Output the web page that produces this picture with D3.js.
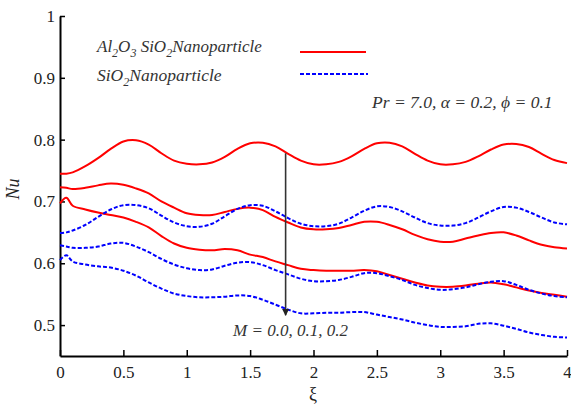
<!DOCTYPE html>
<html>
<head>
<meta charset="utf-8">
<script src="https://cdn.jsdelivr.net/npm/d3@7"></script>
<style>
  body { margin: 0; background: #fff; }
</style>
</head>
<body>
<div id="chart"></div>
<script>
// xi positions shared by all curves
var xi = [0, 0.05, 0.1, 0.2, 0.3, 0.4, 0.5, 0.6, 0.7, 0.8, 0.9, 1.0, 1.1, 1.2, 1.3, 1.4, 1.5, 1.6, 1.7, 1.8, 1.9, 2.0,
          2.1, 2.2, 2.3, 2.4, 2.5, 2.6, 2.7, 2.8, 2.9, 3.0, 3.1, 3.2, 3.3, 3.4, 3.5, 3.6, 3.7, 3.8, 3.9, 4.0];

// Al2O3 SiO2 nanoparticle, M = 0.0, 0.1, 0.2
var alM0 = [0.745, 0.745, 0.747, 0.757, 0.770, 0.785, 0.797, 0.799, 0.792, 0.778, 0.766, 0.761, 0.760, 0.763, 0.772, 0.785, 0.794, 0.795, 0.789, 0.777, 0.766, 0.760,
            0.760, 0.764, 0.773, 0.785, 0.794, 0.795, 0.789, 0.777, 0.766, 0.760, 0.760, 0.764, 0.773, 0.784, 0.792, 0.793, 0.788, 0.777, 0.767, 0.762];
var alM1 = [0.723, 0.722, 0.720, 0.722, 0.726, 0.729, 0.727, 0.721, 0.713, 0.700, 0.690, 0.681, 0.678, 0.678, 0.683, 0.688, 0.690, 0.686, 0.675, 0.666, 0.658, 0.655,
            0.655, 0.657, 0.662, 0.667, 0.667, 0.662, 0.655, 0.646, 0.639, 0.635, 0.635, 0.640, 0.645, 0.649, 0.650, 0.645, 0.637, 0.630, 0.626, 0.624];
var alM2 = [0.697, 0.706, 0.693, 0.687, 0.682, 0.678, 0.674, 0.667, 0.658, 0.644, 0.632, 0.625, 0.622, 0.621, 0.623, 0.621, 0.614, 0.610, 0.603, 0.597, 0.591, 0.589,
            0.588, 0.588, 0.588, 0.589, 0.587, 0.581, 0.575, 0.569, 0.564, 0.562, 0.562, 0.564, 0.567, 0.569, 0.566, 0.561, 0.556, 0.552, 0.549, 0.546];

// SiO2 nanoparticle, M = 0.0, 0.1, 0.2
var siM0 = [0.649, 0.650, 0.653, 0.662, 0.675, 0.687, 0.694, 0.694, 0.689, 0.677, 0.666, 0.660, 0.659, 0.664, 0.676, 0.688, 0.694, 0.693, 0.684, 0.673, 0.664, 0.660,
            0.660, 0.664, 0.674, 0.685, 0.692, 0.691, 0.684, 0.674, 0.665, 0.661, 0.661, 0.665, 0.674, 0.684, 0.691, 0.690, 0.683, 0.674, 0.666, 0.663];
var siM1 = [0.629, 0.627, 0.625, 0.625, 0.627, 0.632, 0.633, 0.627, 0.618, 0.607, 0.598, 0.592, 0.589, 0.590, 0.596, 0.601, 0.602, 0.597, 0.589, 0.582, 0.575, 0.571,
            0.571, 0.573, 0.578, 0.584, 0.584, 0.579, 0.573, 0.565, 0.560, 0.557, 0.558, 0.561, 0.566, 0.570, 0.571, 0.565, 0.557, 0.551, 0.547, 0.545];
var siM2 = [0.605, 0.613, 0.603, 0.598, 0.595, 0.593, 0.588, 0.580, 0.569, 0.559, 0.551, 0.547, 0.545, 0.545, 0.546, 0.548, 0.547, 0.541, 0.533, 0.525, 0.519, 0.519,
            0.520, 0.520, 0.521, 0.521, 0.517, 0.513, 0.509, 0.504, 0.500, 0.497, 0.497, 0.498, 0.502, 0.503, 0.499, 0.494, 0.488, 0.484, 0.481, 0.480];

var xTicks = [0, 0.5, 1, 1.5, 2, 2.5, 3, 3.5, 4];
var yTicks = [0.5, 0.6, 0.7, 0.8, 0.9, 1];

var width = 571, height = 407;

var svg = d3.select("#chart")
  .append("svg")
    .attr("width", width)
    .attr("height", height);

var x = d3.scaleLinear().domain([0, 4]).range([60, 567]);
var y = d3.scaleLinear().domain([0.45, 1]).range([356, 16]);

// axes (ticks pointing inward)
var xAxis = svg.append("g")
  .attr("transform", "translate(0," + y(0.45) + ")")
  .call(d3.axisBottom(x).tickValues(xTicks).tickSizeInner(-6).tickSizeOuter(0)
        .tickFormat(function(d) { return String(d); }));
var yAxis = svg.append("g")
  .attr("transform", "translate(" + x(0) + ",0)")
  .call(d3.axisLeft(y).tickValues(yTicks).tickSizeInner(-5).tickSizeOuter(0)
        .tickFormat(function(d) { return String(d); }));

[xAxis, yAxis].forEach(function(ax) {
  ax.attr("font-family", null).attr("font-size", null);
  ax.select(".domain").attr("stroke", "#000").attr("stroke-width", 2);
  ax.selectAll(".tick line").attr("stroke", "#000").attr("stroke-width", 1.5);
  ax.selectAll(".tick text").attr("fill", "#222").attr("font-size", 17);
});
xAxis.selectAll(".tick text").attr("y", 10);
yAxis.selectAll(".tick text").attr("x", -5);

// curves
var line = d3.line()
  .x(function(d) { return x(d[0]); })
  .y(function(d) { return y(d[1]); })
  .curve(d3.curveCatmullRom.alpha(0.5));

var series = [
  {vals: alM0, color: "#ff0000", dash: null},
  {vals: alM1, color: "#ff0000", dash: null},
  {vals: alM2, color: "#ff0000", dash: null},
  {vals: siM0, color: "#0000ff", dash: "4,2"},
  {vals: siM1, color: "#0000ff", dash: "4,2"},
  {vals: siM2, color: "#0000ff", dash: "4,2"}
];

series.forEach(function(s) {
  svg.append("path")
    .datum(xi.map(function(v, i) { return [v, s.vals[i]]; }))
    .attr("fill", "none")
    .attr("stroke", s.color)
    .attr("stroke-width", 2)
    .attr("stroke-dasharray", s.dash)
    .attr("d", line);
});

// arrow for increasing M
svg.append("defs").append("marker")
    .attr("id", "arrow")
    .attr("viewBox", "0 0 10 10")
    .attr("refX", 9).attr("refY", 5)
    .attr("markerWidth", 12).attr("markerHeight", 7)
    .attr("markerUnits", "userSpaceOnUse")
    .attr("orient", "auto")
  .append("path")
    .attr("d", "M0,0 L10,5 L0,10 z")
    .attr("fill", "#222");

svg.append("line")
  .attr("x1", x(1.78)).attr("x2", x(1.78))
  .attr("y1", y(0.778)).attr("y2", y(0.516))
  .attr("stroke", "#333")
  .attr("stroke-width", 1.6)
  .attr("marker-end", "url(#arrow)");

svg.append("text")
  .attr("x", 233).attr("y", 336)
  .attr("font-size", 17).attr("font-style", "italic")
  .attr("fill", "#333")
  .text("M = 0.0, 0.1, 0.2");

// axis titles
svg.append("text")
  .attr("transform", "translate(19,189) rotate(-90)")
  .attr("text-anchor", "middle")
  .attr("font-size", 18).attr("font-style", "italic")
  .attr("fill", "#222")
  .text("Nu");

svg.append("text")
  .attr("x", 313).attr("y", 400)
  .attr("text-anchor", "middle")
  .attr("font-size", 18)
  .attr("fill", "#222")
  .text("ξ");

// legend
var lg1 = svg.append("text")
  .attr("x", 97).attr("y", 52)
  .attr("font-size", 17).attr("font-style", "italic")
  .attr("fill", "#333");
lg1.append("tspan").text("Al");
lg1.append("tspan").attr("dy", 5).attr("font-size", 12).text("2");
lg1.append("tspan").attr("dy", -5).text("O");
lg1.append("tspan").attr("dy", 5).attr("font-size", 12).text("3");
lg1.append("tspan").attr("dy", -5).text(" SiO");
lg1.append("tspan").attr("dy", 5).attr("font-size", 12).text("2");
lg1.append("tspan").attr("dy", -5).text("Nanoparticle");

var lg2 = svg.append("text")
  .attr("x", 97).attr("y", 81)
  .attr("font-size", 17.5).attr("font-style", "italic")
  .attr("fill", "#333");
lg2.append("tspan").text("SiO");
lg2.append("tspan").attr("dy", 5).attr("font-size", 12).text("2");
lg2.append("tspan").attr("dy", -5).text("Nanoparticle");

svg.append("line")
  .attr("x1", 300).attr("x2", 366).attr("y1", 52).attr("y2", 52)
  .attr("stroke", "#ff0000").attr("stroke-width", 2);
svg.append("line")
  .attr("x1", 300).attr("x2", 368).attr("y1", 74).attr("y2", 74)
  .attr("stroke", "#0000ff").attr("stroke-width", 2).attr("stroke-dasharray", "4,2");

svg.append("text")
  .attr("x", 372).attr("y", 108)
  .attr("font-size", 17.5).attr("font-style", "italic")
  .attr("fill", "#333")
  .text("Pr = 7.0,  α = 0.2,  ϕ = 0.1");

// serif face on every text
svg.selectAll("text").attr("font-family", "Liberation Serif");
</script>
</body>
</html>
